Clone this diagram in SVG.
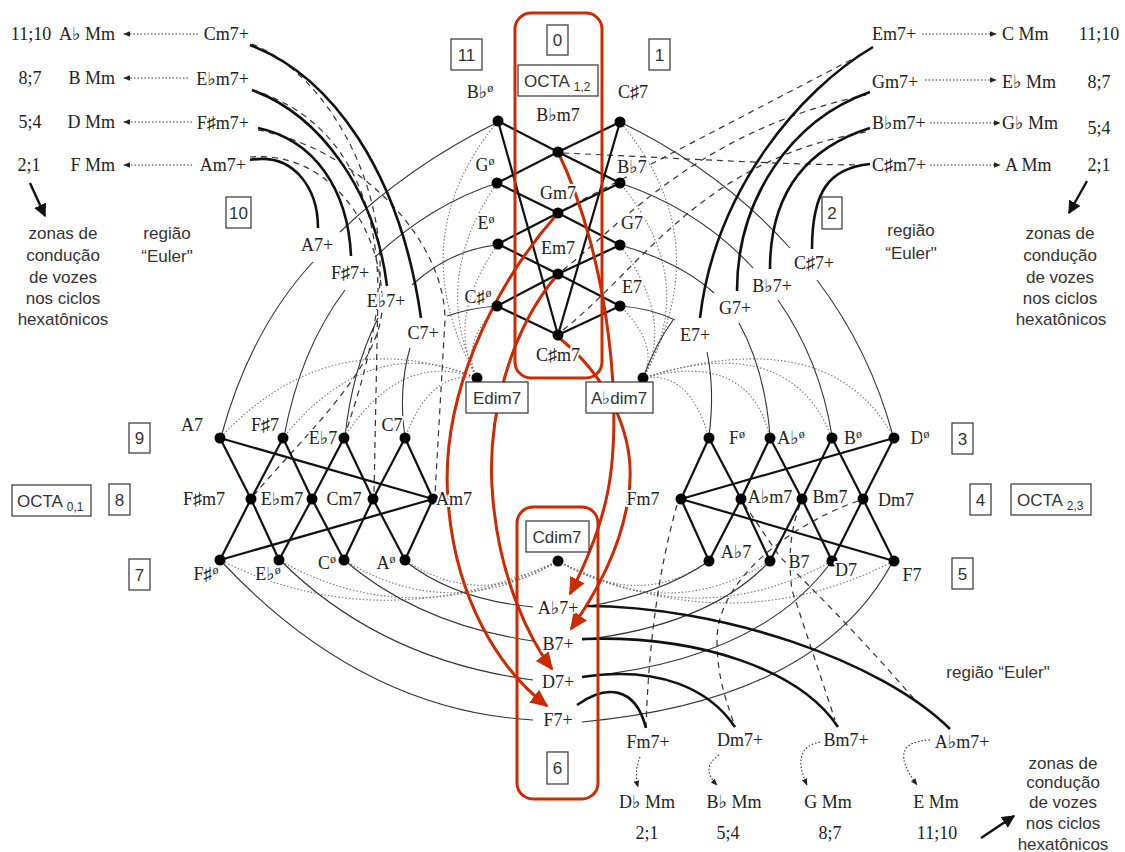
<svg xmlns="http://www.w3.org/2000/svg" width="1125" height="852" viewBox="0 0 1125 852">
<defs>
<style>
.e{stroke:#111;stroke-width:2.2;fill:none;stroke-linejoin:round}
.t{stroke:#333;stroke-width:1.1;fill:none}
.k{stroke:#111;stroke-width:2.6;fill:none}
.d{stroke:#333;stroke-width:1.2;stroke-dasharray:6 5;fill:none}
.o{stroke:#777;stroke-width:1.1;stroke-dasharray:1.5 2;fill:none}
.oa{stroke:#333;stroke-width:1.1;stroke-dasharray:1.5 2;fill:none}
.r{stroke:#CC2A00;stroke-width:3;fill:none}
.nd{fill:#000}
.l{font-family:"Liberation Serif","DejaVu Serif",serif;font-size:18px;fill:#222;text-anchor:middle;paint-order:stroke;stroke:#fff;stroke-width:4px;stroke-linejoin:round}
.s{font-family:"Liberation Sans",Arial,sans-serif;font-size:17px;fill:#333;text-anchor:middle}
.bx{fill:#fff;stroke:#333;stroke-width:1.2}
.sup{font-size:12px}
.sub{font-size:12px}
</style>
<marker id="ah" viewBox="0 0 10 10" refX="9" refY="5" markerWidth="7" markerHeight="7" markerUnits="userSpaceOnUse" orient="auto"><path d="M0,1 L10,5 L0,9 z" fill="#222"/></marker>
<marker id="ab" viewBox="0 0 10 10" refX="9" refY="5" markerWidth="13" markerHeight="13" markerUnits="userSpaceOnUse" orient="auto"><path d="M0,0 L10,5 L0,10 z" fill="#111"/></marker>
<marker id="ar" viewBox="0 0 10 10" refX="9" refY="5" markerWidth="18" markerHeight="18" markerUnits="userSpaceOnUse" orient="auto"><path d="M0,0.5 L10,5 L0,9.5 z" fill="#CC2A00"/></marker>
</defs>
<rect width="1125" height="852" fill="#fff"/>

<g id="connectors">
<!-- dotted: Edim7 -->
<path class="o" d="M477,378 Q400,240 498,121"/>
<path class="o" d="M477,378 Q430,280 497,183"/>
<path class="o" d="M477,378 Q445,320 498,244"/>
<path class="o" d="M477,378 Q460,345 497,306"/>
<path class="o" d="M477,378 Q330,320 220,438"/>
<path class="o" d="M477,378 Q370,330 283,438"/>
<path class="o" d="M477,378 Q400,350 344,438"/>
<path class="o" d="M477,378 Q430,370 405,438"/>
<!-- dotted: Abdim7 -->
<path class="o" d="M643,378 Q720,240 620,122"/>
<path class="o" d="M643,378 Q700,280 620,183"/>
<path class="o" d="M643,378 Q675,320 620,245"/>
<path class="o" d="M643,378 Q660,345 620,306"/>
<path class="o" d="M643,378 Q690,370 709,438"/>
<path class="o" d="M643,378 Q750,350 770,438"/>
<path class="o" d="M643,378 Q790,330 832,438"/>
<path class="o" d="M643,378 Q830,320 894,438"/>
<!-- dotted: Cdim7 -->
<path class="o" d="M558,561 Q380,640 220,560"/>
<path class="o" d="M558,561 Q410,635 279,560"/>
<path class="o" d="M558,561 Q450,625 344,560"/>
<path class="o" d="M558,561 Q480,610 405,560"/>
<path class="o" d="M558,561 Q640,610 709,561"/>
<path class="o" d="M558,561 Q670,625 770,561"/>
<path class="o" d="M558,561 Q700,635 832,561"/>
<path class="o" d="M558,561 Q730,645 894,561"/>

<!-- thin solid chains -->
<path class="t" d="M498,122 Q410,165 340,232"/>
<path class="t" d="M497,183 Q430,205 375,257"/>
<path class="t" d="M497,245 Q450,250 412,285"/>
<path class="t" d="M497,306 Q470,308 447,316"/>
<path class="t" d="M313,262 Q250,330 221,437"/>
<path class="t" d="M345,290 Q300,350 284,437"/>
<path class="t" d="M378,318 Q352,370 345,437"/>
<path class="t" d="M410,348 Q398,390 405,437"/>
<path class="t" d="M620,122 Q720,170 790,248"/>
<path class="t" d="M620,183 Q700,210 753,268"/>
<path class="t" d="M620,245 Q680,262 714,293"/>
<path class="t" d="M620,306 Q650,308 675,320"/>
<path class="t" d="M643,378 Q655,345 673,320"/>
<path class="t" d="M817,280 Q870,350 893,436"/>
<path class="t" d="M778,300 Q820,360 832,436"/>
<path class="t" d="M739,323 Q765,370 770,436"/>
<path class="t" d="M707,352 Q715,390 709,436"/>
<path class="t" d="M405,561 Q455,600 533,607"/>
<path class="t" d="M344,560 Q420,625 533,641"/>
<path class="t" d="M280,560 Q380,660 533,680"/>
<path class="t" d="M220,560 Q360,710 533,720"/>
<path class="t" d="M584,607 Q660,595 709,561"/>
<path class="t" d="M582,640 Q710,625 770,561"/>
<path class="t" d="M582,677 Q760,660 832,561"/>
<path class="t" d="M582,722 Q820,700 893,561"/>

<!-- dashed -->
<path class="d" d="M563,153 C680,158 780,165 866,165"/>
<path class="d" d="M563,210 L866,52"/>
<path class="d" d="M563,270 C620,225 700,130 866,95"/>
<path class="d" d="M563,330 C640,270 700,160 866,132"/>
<path class="d" d="M252,90 C320,110 378,170 378,293 L374,494"/>
<path class="d" d="M258,130 C360,150 445,240 445,320 L435,494"/>
<path class="d" d="M250,157 C330,150 385,230 382,310 C378,370 300,440 255,494"/>
<path class="d" d="M252,44 C330,75 400,200 375,320 C365,380 352,410 346,433"/>
<path class="d" d="M677,505 Q650,600 646,727"/>
<path class="d" d="M858,501 C790,525 717,580 717,640 C717,680 728,705 735,727"/>
<path class="d" d="M800,505 C790,530 788,560 792,590 L835,720"/>
<path class="d" d="M744,504 L780,557 Q850,625 915,700"/>

<!-- thick hexatonic arcs -->
<path class="k" d="M250,45 C330,75 400,170 421,318"/>
<path class="k" d="M252,90 C320,115 375,190 387,286"/>
<path class="k" d="M258,128 C315,140 348,190 351,256"/>
<path class="k" d="M250,160 C295,152 318,190 318,228"/>
<path class="k" d="M873,47 C800,90 715,190 700,318"/>
<path class="k" d="M870,92 C790,120 737,200 737,291"/>
<path class="k" d="M870,128 C800,150 770,200 770,269"/>
<path class="k" d="M870,164 C830,168 812,190 812,249"/>
<path class="k" d="M585,606 C720,606 880,660 950,729"/>
<path class="k" d="M582,639 C700,635 800,670 838,727"/>
<path class="k" d="M582,677 C660,665 710,690 735,727"/>
<path class="k" d="M577,705 C605,685 635,685 646,728"/>

<!-- octatonic cluster edges -->
<polyline class="e" points="498,121 558,152 620,183"/>
<polyline class="e" points="620,122 558,152 497,183"/>
<polyline class="e" points="497,183 558,213 620,245"/>
<polyline class="e" points="620,183 558,213 498,244"/>
<polyline class="e" points="498,244 558,274 620,306"/>
<polyline class="e" points="620,245 558,274 497,306"/>
<polyline class="e" points="497,306 558,335 620,306"/>
<polyline class="e" points="498,121 558,335 620,122"/>
<polyline class="e" points="220,438 251,499 279,560"/>
<polyline class="e" points="283,438 251,499 220,560"/>
<polyline class="e" points="283,438 312,499 344,560"/>
<polyline class="e" points="344,438 312,499 279,560"/>
<polyline class="e" points="344,438 373,499 405,560"/>
<polyline class="e" points="405,438 373,499 344,560"/>
<polyline class="e" points="405,438 433,499 405,560"/>
<polyline class="e" points="220,438 433,499 220,560"/>
<polyline class="e" points="709,438 681,499 709,561"/>
<polyline class="e" points="894,438 681,499 894,561"/>
<polyline class="e" points="709,438 741,499 770,561"/>
<polyline class="e" points="770,438 741,499 709,561"/>
<polyline class="e" points="770,438 802,499 832,561"/>
<polyline class="e" points="832,438 802,499 770,561"/>
<polyline class="e" points="832,438 863,499 894,561"/>
<polyline class="e" points="894,438 863,499 832,561"/>

<!-- dotted arrows to Mm -->
<path class="oa" d="M198,34 L124,34" marker-end="url(#ah)"/>
<path class="oa" d="M188,78 L124,78" marker-end="url(#ah)"/>
<path class="oa" d="M192,122 L124,122" marker-end="url(#ah)"/>
<path class="oa" d="M192,165 L124,165" marker-end="url(#ah)"/>
<path class="oa" d="M922,34 L996,34" marker-end="url(#ah)"/>
<path class="oa" d="M925,80 L996,80" marker-end="url(#ah)"/>
<path class="oa" d="M930,123 L1000,123" marker-end="url(#ah)"/>
<path class="oa" d="M930,165 L1000,165" marker-end="url(#ah)"/>
<path class="oa" d="M640,757 Q634,772 638,787" marker-end="url(#ah)"/>
<path class="oa" d="M719,755 Q700,768 717,785" marker-end="url(#ah)"/>
<path class="oa" d="M820,742 Q790,748 807,785" marker-end="url(#ah)"/>
<path class="oa" d="M930,740 Q885,742 917,785" marker-end="url(#ah)"/>

<!-- zonas arrows -->
<path d="M30,183 L45,216" stroke="#111" stroke-width="2.4" fill="none" marker-end="url(#ab)"/>
<path d="M1087,181 L1069,213" stroke="#111" stroke-width="2.4" fill="none" marker-end="url(#ab)"/>
<path d="M981,838 L1014,816" stroke="#111" stroke-width="2.4" fill="none" marker-end="url(#ab)"/>
</g>

<g id="frames">
<rect x="515" y="13" width="87" height="365" rx="16" class="r"/>
<rect x="517" y="507" width="81" height="292" rx="16" class="r"/>
</g>

<g id="red-arrows">
<path class="r" d="M558,152 C610,260 625,420 606,500 C598,535 585,565 570,594" marker-end="url(#ar)"/>
<path class="r" d="M558,337 C600,370 640,430 628,500 C620,550 595,595 571,629" marker-end="url(#ar)"/>
<path class="r" d="M558,213 C490,290 440,400 448,500 C455,600 500,670 547,706" marker-end="url(#ar)"/>
<path class="r" d="M558,274 C510,330 485,420 493,500 C500,580 530,640 552,669" marker-end="url(#ar)"/>
</g>

<!-- top cluster -->
<g id="n-Bbo"><circle class="nd" cx="498" cy="121" r="5.5"/><text class="l" x="480" y="98">B♭<tspan class="sup" dy="-6">ø</tspan></text></g>
<g id="n-Go"><circle class="nd" cx="497" cy="183" r="5.5"/><text class="l" x="485" y="171">G<tspan class="sup" dy="-6">ø</tspan></text></g>
<g id="n-Eo"><circle class="nd" cx="498" cy="244" r="5.5"/><text class="l" x="486" y="229">E<tspan class="sup" dy="-6">ø</tspan></text></g>
<g id="n-Cso"><circle class="nd" cx="497" cy="306" r="5.5"/><text class="l" x="478" y="303">C♯<tspan class="sup" dy="-6">ø</tspan></text></g>
<g id="n-Bbm7"><circle class="nd" cx="558" cy="152" r="5.5"/><text class="l" x="558" y="121">B♭m7</text></g>
<g id="n-Gm7"><circle class="nd" cx="558" cy="213" r="5.5"/><text class="l" x="558" y="199">Gm7</text></g>
<g id="n-Em7"><circle class="nd" cx="558" cy="274" r="5.5"/><text class="l" x="558" y="254">Em7</text></g>
<g id="n-Csm7"><circle class="nd" cx="558" cy="335" r="5.5"/><text class="l" x="558" y="361">C♯m7</text></g>
<g id="n-Cs7"><circle class="nd" cx="620" cy="122" r="5.5"/><text class="l" x="633" y="98">C♯7</text></g>
<g id="n-Bb7"><circle class="nd" cx="620" cy="183" r="5.5"/><text class="l" x="632" y="173">B♭7</text></g>
<g id="n-G7"><circle class="nd" cx="620" cy="245" r="5.5"/><text class="l" x="632" y="229">G7</text></g>
<g id="n-E7"><circle class="nd" cx="620" cy="306" r="5.5"/><text class="l" x="632" y="293">E7</text></g>

<!-- left cluster -->
<g id="n-A7"><circle class="nd" cx="220" cy="438" r="5.5"/><text class="l" x="192" y="431">A7</text></g>
<g id="n-Fs7"><circle class="nd" cx="283" cy="438" r="5.5"/><text class="l" x="265" y="431">F♯7</text></g>
<g id="n-Eb7"><circle class="nd" cx="344" cy="438" r="5.5"/><text class="l" x="323" y="444">E♭7</text></g>
<g id="n-C7"><circle class="nd" cx="405" cy="438" r="5.5"/><text class="l" x="392" y="431">C7</text></g>
<g id="n-Fsm7"><circle class="nd" cx="251" cy="499" r="5.5"/><text class="l" x="204" y="505">F♯m7</text></g>
<g id="n-Ebm7"><circle class="nd" cx="312" cy="499" r="5.5"/><text class="l" x="282" y="505">E♭m7</text></g>
<g id="n-Cm7"><circle class="nd" cx="373" cy="499" r="5.5"/><text class="l" x="344" y="505">Cm7</text></g>
<g id="n-Am7"><circle class="nd" cx="433" cy="499" r="5.5"/><text class="l" x="454" y="505">Am7</text></g>
<g id="n-Fso"><circle class="nd" cx="220" cy="560" r="5.5"/><text class="l" x="206" y="580">F♯<tspan class="sup" dy="-6">ø</tspan></text></g>
<g id="n-Ebo"><circle class="nd" cx="279" cy="560" r="5.5"/><text class="l" x="268" y="580">E♭<tspan class="sup" dy="-6">ø</tspan></text></g>
<g id="n-Co"><circle class="nd" cx="344" cy="560" r="5.5"/><text class="l" x="327" y="569">C<tspan class="sup" dy="-6">ø</tspan></text></g>
<g id="n-Ao"><circle class="nd" cx="405" cy="560" r="5.5"/><text class="l" x="386" y="569">A<tspan class="sup" dy="-6">ø</tspan></text></g>

<!-- right cluster -->
<g id="n-Fo"><circle class="nd" cx="709" cy="438" r="5.5"/><text class="l" x="737" y="444">F<tspan class="sup" dy="-6">ø</tspan></text></g>
<g id="n-Abo"><circle class="nd" cx="770" cy="438" r="5.5"/><text class="l" x="791" y="444">A♭<tspan class="sup" dy="-6">ø</tspan></text></g>
<g id="n-Bo"><circle class="nd" cx="832" cy="438" r="5.5"/><text class="l" x="853" y="444">B<tspan class="sup" dy="-6">ø</tspan></text></g>
<g id="n-Do"><circle class="nd" cx="894" cy="438" r="5.5"/><text class="l" x="920" y="444">D<tspan class="sup" dy="-6">ø</tspan></text></g>
<g id="n-Fm7"><circle class="nd" cx="681" cy="499" r="5.5"/><text class="l" x="643" y="505">Fm7</text></g>
<g id="n-Abm7"><circle class="nd" cx="741" cy="499" r="5.5"/><text class="l" x="770" y="503">A♭m7</text></g>
<g id="n-Bm7"><circle class="nd" cx="802" cy="499" r="5.5"/><text class="l" x="830" y="503">Bm7</text></g>
<g id="n-Dm7"><circle class="nd" cx="863" cy="499" r="5.5"/><text class="l" x="896" y="506">Dm7</text></g>
<g id="n-Ab7"><circle class="nd" cx="709" cy="561" r="5.5"/><text class="l" x="736" y="558">A♭7</text></g>
<g id="n-B7"><circle class="nd" cx="770" cy="561" r="5.5"/><text class="l" x="799" y="568">B7</text></g>
<g id="n-D7"><circle class="nd" cx="832" cy="561" r="5.5"/><text class="l" x="846" y="576">D7</text></g>
<g id="n-F7"><circle class="nd" cx="894" cy="561" r="5.5"/><text class="l" x="912" y="581">F7</text></g>

<!-- dim7 nodes -->
<g id="n-Edim7"><circle class="nd" cx="477" cy="378" r="5.5"/><rect class="bx" x="466" y="382" width="62" height="31"/><text class="s" x="497" y="404">Edim7</text></g>
<g id="n-Abdim7"><circle class="nd" cx="643" cy="378" r="5.5"/><rect class="bx" x="586" y="382" width="67" height="31"/><text class="s" x="619" y="404">A♭dim7</text></g>
<g id="n-Cdim7"><circle class="nd" cx="558" cy="561" r="5.5"/><rect class="bx" x="526" y="521" width="63" height="31"/><text class="s" x="557" y="543">Cdim7</text></g>

<!-- 7+ labels -->
<g id="n-A7p"><text class="l" x="317" y="251">A7+</text></g>
<g id="n-Fs7p"><text class="l" x="350" y="279">F♯7+</text></g>
<g id="n-Eb7p"><text class="l" x="386" y="307">E♭7+</text></g>
<g id="n-C7p"><text class="l" x="423" y="339">C7+</text></g>
<g id="n-Cs7p"><text class="l" x="814" y="269">C♯7+</text></g>
<g id="n-Bb7p"><text class="l" x="772" y="292">B♭7+</text></g>
<g id="n-G7p"><text class="l" x="735" y="314">G7+</text></g>
<g id="n-E7p"><text class="l" x="695" y="341">E7+</text></g>
<g id="n-Ab7p"><text class="l" x="558" y="614">A♭7+</text></g>
<g id="n-B7p"><text class="l" x="558" y="650">B7+</text></g>
<g id="n-D7p"><text class="l" x="558" y="688">D7+</text></g>
<g id="n-F7p"><text class="l" x="558" y="726">F7+</text></g>

<!-- m7+ labels and Mm -->
<g id="n-Cm7p"><text class="l" x="249" y="40" style="text-anchor:end">Cm7+</text></g>
<g id="n-Ebm7p"><text class="l" x="249" y="85" style="text-anchor:end">E♭m7+</text></g>
<g id="n-Fsm7p"><text class="l" x="249" y="129" style="text-anchor:end">F♯m7+</text></g>
<g id="n-Am7p"><text class="l" x="246" y="171" style="text-anchor:end">Am7+</text></g>
<g id="n-Em7p"><text class="l" x="872" y="40" style="text-anchor:start">Em7+</text></g>
<g id="n-Gm7p"><text class="l" x="872" y="88" style="text-anchor:start">Gm7+</text></g>
<g id="n-Bbm7p"><text class="l" x="872" y="129" style="text-anchor:start">B♭m7+</text></g>
<g id="n-Csm7p"><text class="l" x="872" y="171" style="text-anchor:start">C♯m7+</text></g>
<g id="n-Fm7p"><text class="l" x="648" y="748">Fm7+</text></g>
<g id="n-Dm7p"><text class="l" x="740" y="746">Dm7+</text></g>
<g id="n-Bm7p"><text class="l" x="846" y="746">Bm7+</text></g>
<g id="n-Abm7p"><text class="l" x="962" y="748">A♭m7+</text></g>

<g id="mm-labels">
<text class="l" x="115" y="40" style="text-anchor:end">A♭ Mm</text>
<text class="l" x="115" y="84" style="text-anchor:end">B Mm</text>
<text class="l" x="115" y="128" style="text-anchor:end">D Mm</text>
<text class="l" x="115" y="171" style="text-anchor:end">F Mm</text>
<text class="l" x="31" y="40">11;10</text>
<text class="l" x="30" y="84">8;7</text>
<text class="l" x="30" y="128">5;4</text>
<text class="l" x="29" y="171">2;1</text>
<text class="l" x="1002" y="40" style="text-anchor:start">C Mm</text>
<text class="l" x="1002" y="88" style="text-anchor:start">E♭ Mm</text>
<text class="l" x="1002" y="129" style="text-anchor:start">G♭ Mm</text>
<text class="l" x="1005" y="171" style="text-anchor:start">A Mm</text>
<text class="l" x="1099" y="40">11;10</text>
<text class="l" x="1099" y="88">8;7</text>
<text class="l" x="1099" y="134">5;4</text>
<text class="l" x="1099" y="171">2;1</text>
<text class="l" x="647" y="808">D♭ Mm</text>
<text class="l" x="734" y="808">B♭ Mm</text>
<text class="l" x="828" y="808">G Mm</text>
<text class="l" x="936" y="808">E Mm</text>
<text class="l" x="647" y="839">2;1</text>
<text class="l" x="728" y="839">5;4</text>
<text class="l" x="830" y="839">8;7</text>
<text class="l" x="937" y="839">11;10</text>
</g>

<g id="notes">
<text class="s" x="63" y="239">zonas de</text>
<text class="s" x="63" y="261">condução</text>
<text class="s" x="63" y="283">de vozes</text>
<text class="s" x="63" y="304">nos ciclos</text>
<text class="s" x="63" y="325">hexatônicos</text>
<text class="s" x="167" y="239">região</text>
<text class="s" x="167" y="262">“Euler"</text>
<text class="s" x="1060" y="239">zonas de</text>
<text class="s" x="1060" y="261">condução</text>
<text class="s" x="1060" y="283">de vozes</text>
<text class="s" x="1060" y="304">nos ciclos</text>
<text class="s" x="1061" y="325">hexatônicos</text>
<text class="s" x="911" y="236">região</text>
<text class="s" x="911" y="259">“Euler"</text>
<text class="s" x="1063" y="769">zonas de</text>
<text class="s" x="1063" y="788">condução</text>
<text class="s" x="1063" y="808">de vozes</text>
<text class="s" x="1063" y="829">nos ciclos</text>
<text class="s" x="1063" y="850">hexatônicos</text>
<text class="s" x="998" y="678">região “Euler"</text>
</g>

<g id="boxes">
<rect class="bx" x="547" y="25" width="21" height="30"/><text class="s" x="557.5" y="46">0</text>
<rect class="bx" x="451" y="39" width="31" height="31"/><text class="s" x="466.5" y="61">11</text>
<rect class="bx" x="649" y="39" width="21" height="31"/><text class="s" x="659.5" y="61">1</text>
<rect class="bx" x="226" y="197" width="25" height="31"/><text class="s" x="238.5" y="219">10</text>
<rect class="bx" x="822" y="197" width="20" height="32"/><text class="s" x="832" y="219">2</text>
<rect class="bx" x="129" y="423" width="21" height="30"/><text class="s" x="139.5" y="444">9</text>
<rect class="bx" x="109" y="484" width="21" height="31"/><text class="s" x="119.5" y="506">8</text>
<rect class="bx" x="129" y="559" width="21" height="31"/><text class="s" x="139.5" y="581">7</text>
<rect class="bx" x="952" y="423" width="21" height="31"/><text class="s" x="962.5" y="445">3</text>
<rect class="bx" x="970" y="484" width="21" height="31"/><text class="s" x="980.5" y="506">4</text>
<rect class="bx" x="952" y="558" width="21" height="31"/><text class="s" x="962.5" y="580">5</text>
<rect class="bx" x="547" y="752" width="21" height="32"/><text class="s" x="557.5" y="774">6</text>
<rect class="bx" x="518" y="65" width="80" height="31"/><text class="s" x="524" y="87" style="text-anchor:start">OCTA <tspan class="sub" dy="4">1,2</tspan></text>
<rect class="bx" x="12" y="485" width="79" height="31"/><text class="s" x="17" y="507" style="text-anchor:start">OCTA <tspan class="sub" dy="4">0,1</tspan></text>
<rect class="bx" x="1011" y="484" width="80" height="31"/><text class="s" x="1017" y="506" style="text-anchor:start">OCTA <tspan class="sub" dy="4">2,3</tspan></text>
</g>
</svg>
